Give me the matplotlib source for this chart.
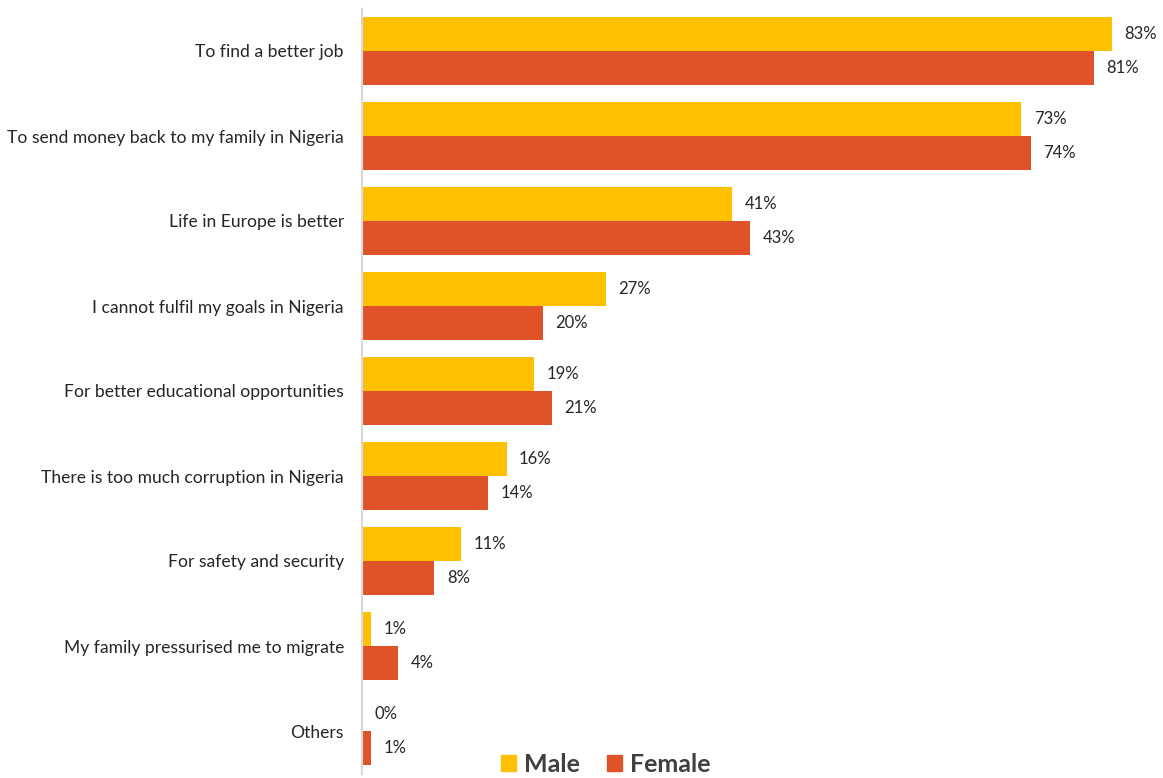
import matplotlib.pyplot as plt
import numpy as np
from matplotlib.patches import Patch

plt.rcParams["font.family"] = ["Lato", "DejaVu Sans"]

reasons = [
    "To find a better job",
    "To send money back to my family in Nigeria",
    "Life in Europe is better",
    "I cannot fulfil my goals in Nigeria",
    "For better educational opportunities",
    "There is too much corruption in Nigeria",
    "For safety and security",
    "My family pressurised me to migrate",
    "Others",
]
male = [83, 73, 41, 27, 19, 16, 11, 1, 0]
female = [81, 74, 43, 20, 21, 14, 8, 4, 1]

MALE_COLOR = "#FFC000"
FEMALE_COLOR = "#E05328"
TEXT_COLOR = "#262626"

W, H = 1163, 778
fig = plt.figure(figsize=(W / 100, H / 100), dpi=100)
ax = fig.add_axes([362 / W, (H - 773.5) / H, 795 / W, 765 / H])

y = np.arange(len(reasons))
bh = 0.4
ax.barh(y - bh / 2, male, height=bh, color=MALE_COLOR)
ax.barh(y + bh / 2, female, height=bh, color=FEMALE_COLOR)

# value labels just past the end of each bar
for yi, m, f in zip(y, male, female):
    ax.annotate(f"{m}%", (m, yi - bh / 2), xytext=(9, 0), textcoords="offset points",
                va="center", ha="left", fontsize=12, color=TEXT_COLOR)
    ax.annotate(f"{f}%", (f, yi + bh / 2), xytext=(9, 0), textcoords="offset points",
                va="center", ha="left", fontsize=12, color=TEXT_COLOR)

ax.set_xlim(0, 88)
ax.set_ylim(len(reasons) - 0.5, -0.5)
ax.set_yticks(y)
ax.set_yticklabels(reasons, fontsize=12.6, color=TEXT_COLOR)
ax.tick_params(axis="y", length=0, pad=13)
ax.set_xticks([])
for side in ("top", "right", "bottom"):
    ax.spines[side].set_visible(False)
ax.spines["left"].set_color("#D9D9D9")
ax.spines["left"].set_linewidth(1.6)

handles = [Patch(color=MALE_COLOR, label="Male"), Patch(color=FEMALE_COLOR, label="Female")]
fig.legend(handles=handles, loc="lower center", bbox_to_anchor=(0.521, -0.026), ncol=2,
           frameon=False, handlelength=0.6, handleheight=0.6, handletextpad=0.3,
           columnspacing=1.1, prop={"size": 18, "weight": "bold"}, labelcolor="#404040")

fig.savefig("out.png", dpi=100)
